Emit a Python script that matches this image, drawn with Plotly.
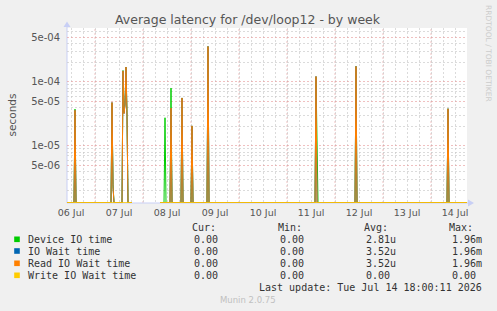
import numpy as np
import pandas as pd
import plotly.graph_objects as go

# ---------------- data ----------------
title_text = "Average latency for /dev/loop12 - by week"
range_start = "2026-07-06 10:00"
range_end = "2026-07-14 18:00"
gap_start = "2026-07-07 18:30"   # no data in this span
gap_end = "2026-07-08 08:30"

device_times = ["2026-07-06 14:00", "2026-07-07 08:30", "2026-07-07 09:00",
                "2026-07-07 14:00", "2026-07-07 14:30", "2026-07-07 15:00",
                "2026-07-07 15:30", "2026-07-07 16:00",
                "2026-07-08 11:00", "2026-07-08 14:00", "2026-07-08 19:30",
                "2026-07-09 00:30", "2026-07-09 08:30", "2026-07-11 14:30",
                "2026-07-11 15:00", "2026-07-12 10:30", "2026-07-14 08:30"]
device_values = [3.75e-5, 4.7e-5, 2.5e-6,
                 1.5e-4, 3.3e-5, 4.5e-5,
                 1.7e-4, 3.05e-5,
                 2.75e-5, 8.0e-5, 5.6e-5,
                 2.05e-5, 3.55e-4, 1.2e-4,
                 4.0e-6, 1.74e-4, 3.8e-5]

wait_times = ["2026-07-06 14:00", "2026-07-07 08:30", "2026-07-07 09:00",
              "2026-07-07 14:00", "2026-07-07 14:30", "2026-07-07 15:00",
              "2026-07-07 15:30", "2026-07-07 16:00",
              "2026-07-08 14:00", "2026-07-08 19:30",
              "2026-07-09 00:30", "2026-07-09 08:30", "2026-07-11 14:30",
              "2026-07-12 10:30", "2026-07-14 08:30"]
wait_values = [3.6e-5, 4.75e-5, 2.3e-6,
               1.48e-4, 3.2e-5, 4.3e-5,
               1.7e-4, 2.9e-5,
               3.9e-5, 5.6e-5,
               2.05e-5, 3.56e-4, 1.21e-4,
               1.74e-4, 3.8e-5]

day_labels = ["06 Jul", "07 Jul", "08 Jul", "09 Jul", "10 Jul",
              "11 Jul", "12 Jul", "13 Jul", "14 Jul"]
ytick_vals = [5e-6, 1e-5, 5e-5, 1e-4, 5e-4]
ytick_text = ["5e-06", "1e-05", "5e-05", "1e-04", "5e-04"]

legend_names = ["Device IO time", "IO Wait time", "Read IO Wait time", "Write IO Wait time"]
legend_colors = ["#00cc00", "#0066b3", "#ff8000", "#ffcc00"]
cur_vals = ["0.00", "0.00", "0.00", "0.00"]
min_vals = ["0.00", "0.00", "0.00", "0.00"]
avg_vals = ["2.81u", "3.52u", "3.52u", "0.00"]
max_vals = ["1.96m", "1.96m", "1.96m", "0.00"]
last_update = "Last update: Tue Jul 14 18:00:11 2026"
footer = "Munin 2.0.75"

# ---------------- build series ----------------
t = pd.date_range(range_start, range_end, freq="30min")
Y_LOG_RANGE = [-5.891, -3.160]
ZERO = 10 ** (Y_LOG_RANGE[0] + 0.004)   # zero is drawn on the bottom edge (log scale)


def build(times, values):
    s = pd.Series(ZERO, index=t, dtype=float)
    for tm, v in zip(times, values):
        s[pd.Timestamp(tm)] = v
    s[(s.index > pd.Timestamp(gap_start)) & (s.index < pd.Timestamp(gap_end))] = np.nan
    return s


dev = build(device_times, device_values)
wait = build(wait_times, wait_values)
write = build([], [])
series = [dev, wait, wait, write]

fig = go.Figure()
for name, color, s in zip(legend_names, legend_colors, series):
    fig.add_trace(go.Scatter(x=s.index, y=s.values, mode="lines", name=name,
                             line=dict(color=color, width=1), connectgaps=False,
                             showlegend=False, hoverinfo="skip"))

# ---------------- layout helpers ----------------
W, H = 497, 311
L, R, T, B = 67, 30, 28, 108
PW, PH = W - L - R, H - T - B


def X(px):
    return (px - L) / PW


def Y(py):
    return (T + PH - py) / PH


RED = "rgba(230,150,150,0.6)"
GRAY = "rgba(200,200,200,0.65)"
AXIS = "#c8cff5"

fig.update_layout(
    width=W, height=H,
    margin=dict(l=L, r=R, t=T, b=B, pad=0),
    paper_bgcolor="#f0f0f0", plot_bgcolor="#ffffff",
    showlegend=False,
)

noon_ticks = pd.date_range("2026-07-06 12:00", periods=len(day_labels), freq="D")
fig.update_xaxes(
    type="date", range=[range_start, range_end],
    tickmode="array", tickvals=noon_ticks, ticktext=day_labels,
    ticks="", showgrid=False, zeroline=False, showline=False,
    tickfont=dict(family="DejaVu Sans", size=9.5, color="#555555"),
    ticklabelstandoff=2,
    minor=dict(dtick=6 * 3600 * 1000, tick0="2026-07-06 00:00", showgrid=True,
               gridcolor=GRAY, griddash="2px,2px", gridwidth=1, ticks=""),
)
minor_y = [m * 10.0 ** e for e in range(-6, -2) for m in range(2, 10) if m != 5]
fig.update_yaxes(
    type="log", range=Y_LOG_RANGE,
    tickmode="array", tickvals=ytick_vals, ticktext=ytick_text,
    ticks="", showgrid=True, gridcolor=RED, griddash="2px,2px", gridwidth=1,
    zeroline=False, showline=False,
    tickfont=dict(family="DejaVu Sans", size=10, color="#555555"),
    ticklabelstandoff=6,
    minor=dict(tickmode="array", tickvals=minor_y, showgrid=True,
               gridcolor=GRAY, griddash="2px,2px", gridwidth=1, ticks=""),
)

shapes = []
# red major grid at midnight
for d in pd.date_range("2026-07-07", "2026-07-14", freq="D"):
    shapes.append(dict(type="line", xref="x", yref="paper", x0=d, x1=d, y0=0, y1=1,
                       line=dict(color=RED, width=1, dash="2px,2px"), layer="between"))
# axes with arrows
shapes.append(dict(type="line", xref="paper", yref="paper", x0=X(67), x1=X(67), y0=Y(203), y1=Y(25),
                   line=dict(color=AXIS, width=1), layer="below"))
shapes.append(dict(type="line", xref="paper", yref="paper", x0=X(67), x1=X(469), y0=Y(203), y1=Y(203),
                   line=dict(color=AXIS, width=1), layer="below"))
shapes.append(dict(type="path", xref="paper", yref="paper",
                   path=f"M {X(63.5)},{Y(27)} L {X(70.5)},{Y(27)} L {X(67)},{Y(21.5)} Z",
                   fillcolor=AXIS, line=dict(width=0), layer="above"))
shapes.append(dict(type="path", xref="paper", yref="paper",
                   path=f"M {X(468)},{Y(199.5)} L {X(468)},{Y(206.5)} L {X(474)},{Y(203)} Z",
                   fillcolor=AXIS, line=dict(width=0), layer="above"))

annotations = []


def txt(text, px, py, size=10, family="DejaVu Sans Mono", color="#333333",
        xanchor="left", angle=0):
    annotations.append(dict(text=text, x=X(px), y=Y(py), xref="paper", yref="paper",
                            xanchor=xanchor, yanchor="middle", showarrow=False,
                            textangle=angle,
                            font=dict(family=family, size=size, color=color)))


txt(title_text, 248, 19, size=12.5, family="DejaVu Sans", color="#555555", xanchor="center")
txt("seconds", 11, 114.5, size=10.5, family="DejaVu Sans", color="#555555",
    xanchor="center", angle=-90)
txt("RRDTOOL / TOBI OETIKER", 488.5, 53.5, size=7.5, family="DejaVu Sans",
    color="#cccccc", xanchor="center", angle=90)

header_y = 227.7
row_y = [239.3, 251.0, 263.3, 275.3]
txt("Cur:", 190, header_y)
txt("Min:", 276, header_y)
txt("Avg:", 362, header_y)
txt("Max:", 447, header_y)
for i, name in enumerate(legend_names):
    y = row_y[i]
    shapes.append(dict(type="rect", xref="paper", yref="paper",
                       x0=X(14.2), x1=X(19.8), y0=Y(y + 2.8), y1=Y(y - 2.8),
                       fillcolor=legend_colors[i], line=dict(width=0), layer="above"))
    txt(name, 26, y)
    txt(cur_vals[i] + "\u00a0", 225.5, y, xanchor="right")
    txt(min_vals[i] + "\u00a0", 311.5, y, xanchor="right")
    txt(avg_vals[i] if avg_vals[i][-1].isalpha() else avg_vals[i] + "\u00a0", 397.5, y, xanchor="right")
    txt(max_vals[i] if max_vals[i][-1].isalpha() else max_vals[i] + "\u00a0", 483.5, y, xanchor="right")
txt(last_update, 483.5, 287, xanchor="right")
txt(footer, 248, 300, size=8.5, family="DejaVu Sans", color="#c0c0c0", xanchor="center")

fig.update_layout(shapes=shapes, annotations=annotations)
fig.write_html("out.html")
